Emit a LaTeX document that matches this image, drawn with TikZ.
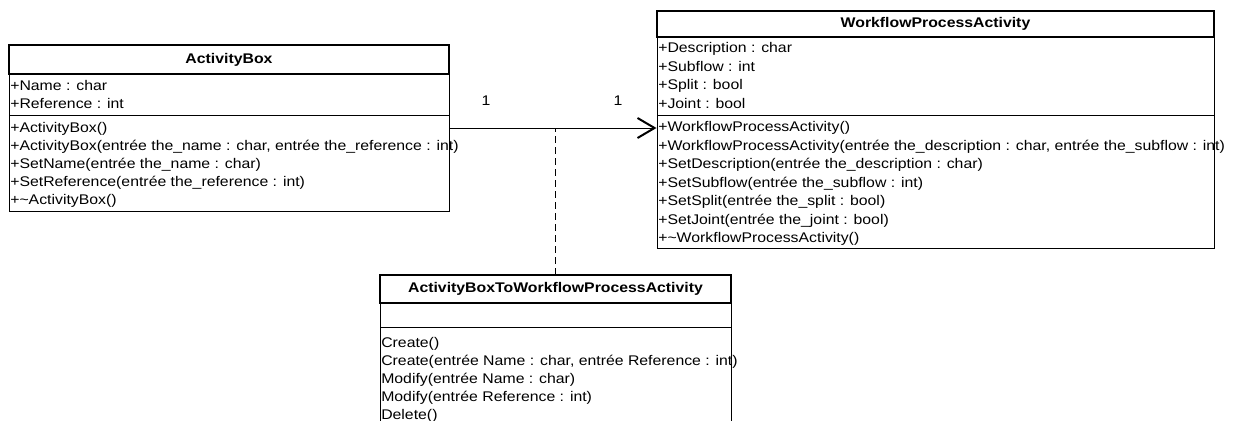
\documentclass[tikz,border=0pt]{standalone}
\usepackage{fontspec}
\setmainfont{Liberation Sans}[FakeStretch=1.13]
\usetikzlibrary{fit,arrows.meta}

\begin{document}
\begin{tikzpicture}[x=0.75pt,y=-0.75pt,
  box/.style={draw=black, line width=0.75pt, inner sep=0pt},
  titlebox/.style={draw=black, line width=1.5pt, inner sep=0pt},
  ttl/.style={font=\fontsize{10.5pt}{12pt}\selectfont\bfseries, inner sep=0pt},
  member/.style={font=\fontsize{10.5pt}{12pt}\selectfont, inner sep=0pt, anchor=base west},
  mult/.style={font=\fontsize{10.5pt}{12pt}\selectfont, inner sep=0pt},
  assoc/.style={line width=0.75pt, -{Straight Barb[length=12.75pt, width=15pt, line width=1.5pt]}},
  link/.style={line width=0.75pt, dash pattern=on 5.25pt off 3pt}]

\useasboundingbox (0,0) rectangle (1240,421);
\clip (0,0) rectangle (1240,421);

% ---------- ActivityBox ----------
\node[box, fit={(9,45)(449,211)}] (ab) {};
\node[box, fit={(9,74)(449,115)}] (abA) {};
\node[titlebox, fit={(9,45)(449,74)}] (abT) {};
\node[ttl] (abTitle) at (abT.center) {ActivityBox};
\foreach \t [count=\i from 0] in {+Name : char, +Reference : int}
  \node[member] (aba\i) at (10, 90+18*\i) {\t};
\foreach \t [count=\i from 0] in {%
  +ActivityBox(),
  {+ActivityBox(entrée the\_name : char, entrée the\_reference : int)},
  +SetName(entrée the\_name : char),
  +SetReference(entrée the\_reference : int),
  +\textasciitilde ActivityBox()}
  \node[member] (abm\i) at (10, 132+18*\i) {\t};

% ---------- WorkflowProcessActivity ----------
\node[box, fit={(657,11)(1214,248)}] (wpa) {};
\node[box, fit={(657,37)(1214,115)}] (wpaA) {};
\node[titlebox, fit={(657,11)(1214,37)}] (wpaT) {};
\node[ttl] (wpaTitle) at (wpaT.center) {WorkflowProcessActivity};
\foreach \t [count=\i from 0] in {+Description : char, +Subflow : int, +Split : bool, +Joint : bool}
  \node[member] (wpaa\i) at (658, 52.5+18.5*\i) {\t};
\foreach \t [count=\i from 0] in {%
  +WorkflowProcessActivity(),
  {+WorkflowProcessActivity(entrée the\_description : char, entrée the\_subflow : int)},
  +SetDescription(entrée the\_description : char),
  +SetSubflow(entrée the\_subflow : int),
  +SetSplit(entrée the\_split : bool),
  +SetJoint(entrée the\_joint : bool),
  +\textasciitilde WorkflowProcessActivity()}
  \node[member] (wpam\i) at (658, 131.5+18.5*\i) {\t};

% ---------- ActivityBoxToWorkflowProcessActivity ----------
\node[box, fit={(380,275)(731,440)}] (abw) {};
\node[box, fit={(380,303)(731,327)}] (abwA) {};
\node[titlebox, fit={(380,275)(731,303)}] (abwT) {};
\node[ttl] (abwTitle) at (abwT.center) {ActivityBoxToWorkflowProcessActivity};
\foreach \t [count=\i from 0] in {%
  Create(),
  {Create(entrée Name : char, entrée Reference : int)},
  Modify(entrée Name : char),
  Modify(entrée Reference : int),
  Delete()}
  \node[member] (abwm\i) at (381, 347+18*\i) {\t};

% ---------- association and association class link ----------
\draw[assoc] (ab.east) -- (ab.east -| wpa.west);
\coordinate (mid) at (abw.north |- ab.east);
\draw[link] (abw.north) -- (mid);
\node[mult] (m1) at (486,101) {1};
\node[mult] (m2) at (618,101) {1};
\end{tikzpicture}
\end{document}
